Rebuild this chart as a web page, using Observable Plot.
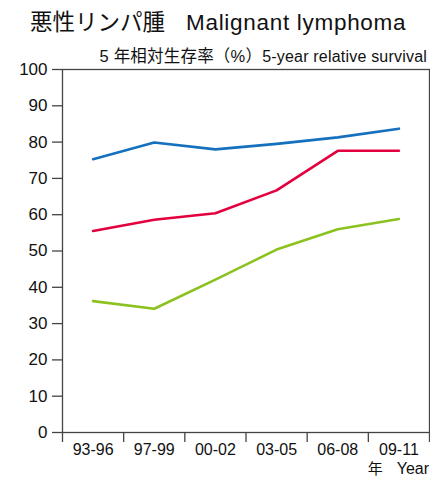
<!DOCTYPE html>
<html><head><meta charset="utf-8">
<script src="https://cdn.jsdelivr.net/npm/d3@7"></script>
<script src="https://cdn.jsdelivr.net/npm/@observablehq/plot@0.6"></script>
<style>
body{margin:0;background:#fff;}
#wrap{position:relative;width:430px;height:478px;overflow:hidden;background:#fff;}
#chart{position:absolute;left:0;top:0;}
.t{position:absolute;white-space:nowrap;color:#111;font-family:"Liberation Sans","Noto Sans CJK JP",sans-serif;line-height:1;}
#title{left:30px;top:12px;font-size:22.5px;}
#title .en{margin-left:21px;letter-spacing:0.7px;}
#sub{right:3px;top:48px;font-size:16px;}
#sub .ja{font-size:16.5px;letter-spacing:0.2px;}
#sub .en{letter-spacing:0.2px;}
#xl{right:1px;top:461px;font-size:16px;}
#xl .ja{font-size:15px;}
#xl .en{margin-left:14px;}
</style></head>
<body><div id="wrap"><div id="chart"></div>
<div class="t" id="title"><span class="ja">悪性リンパ腫</span><span class="en">Malignant lymphoma</span></div>
<div class="t" id="sub"><span class="ja">5 年相対生存率（%）</span><span class="en">5-year relative survival</span></div>
<div class="t" id="xl"><span class="ja">年</span><span class="en">Year</span></div>
</div>
<script>
const categories = ["93-96", "97-99", "00-02", "03-05", "06-08", "09-11"];
const seriesNames = ["series 1", "series 2", "series 3"];
const seriesBlue = [75.3, 79.9, 78.0, 79.5, 81.3, 83.7];
const seriesRed = [55.5, 58.6, 60.4, 66.7, 77.6, 77.6];
const seriesGreen = [36.2, 34.1, 42.1, 50.4, 56.0, 58.8];
const colors = ["#1570bd", "#e4003f", "#8cc21f"];
const yTicks = [0, 10, 20, 30, 40, 50, 60, 70, 80, 90, 100];

const allSeries = [seriesBlue, seriesRed, seriesGreen];
const data = [];
allSeries.forEach((vals, s) => vals.forEach((v, i) => data.push({i, cat: categories[i], value: v, series: seriesNames[s]})));
const idx = categories.map((c, i) => i);
const bounds = [...idx.map(i => i - 0.5), categories.length - 0.5];

const chart = Plot.plot({
  width: 430,
  height: 478,
  marginTop: 69,
  marginBottom: 46,
  marginLeft: 62,
  marginRight: 1,
  style: {fontFamily: "'Liberation Sans', Arial, sans-serif", color: "#111", background: "#fff", overflow: "visible"},
  x: {type: "linear", domain: [-0.5, categories.length - 0.5], axis: null},
  y: {domain: [0, 100], axis: null},
  color: {domain: seriesNames, range: colors},
  marks: [
    Plot.frame({stroke: "#444", strokeWidth: 1.3}),
    Plot.axisY(yTicks, {tickSize: 10, tickPadding: 5, fontSize: 17, letterSpacing: 1, stroke: "#444", strokeWidth: 1.3, label: null}),
    Plot.axisX(bounds, {tickSize: 10, tickFormat: () => "", stroke: "#444", strokeWidth: 1.3, label: null}),
    Plot.axisX(idx, {tickSize: 0, tickPadding: 11, fontSize: 16, tickFormat: i => categories[i], label: null}),
    Plot.line(data, {x: "i", y: "value", z: "series", stroke: "series", strokeWidth: 2.6})
  ]
});
document.getElementById("chart").appendChild(chart);
</script>
</body></html>
